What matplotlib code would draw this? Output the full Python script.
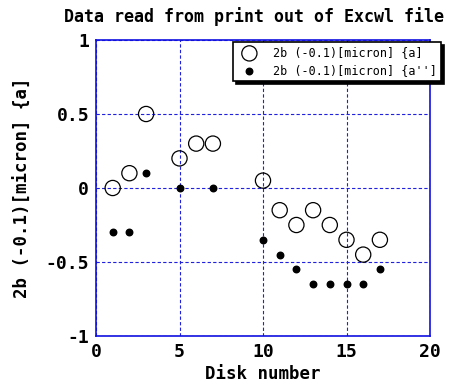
import matplotlib
matplotlib.use('Agg')
import matplotlib.pyplot as plt

# Disk measurements, 2b (-0.1) [micron]
disk_a = [1, 2, 3, 5, 6, 7, 10, 11, 12, 13, 14, 15, 16, 17]
val_a = [0.0, 0.1, 0.5, 0.2, 0.3, 0.3, 0.05, -0.15, -0.25, -0.15, -0.25, -0.35, -0.45, -0.35]

disk_a2 = [1, 2, 3, 5, 7, 10, 11, 12, 13, 14, 15, 16, 17]
val_a2 = [-0.3, -0.3, 0.1, 0.0, 0.0, -0.35, -0.45, -0.55, -0.65, -0.65, -0.65, -0.65, -0.55]

xticks = [0, 5, 10, 15, 20]
yticks = [-1, -0.5, 0, 0.5, 1]
ytick_labels = ['-1', '-0.5', '0', '0.5', '1']

plt.rcParams['font.family'] = 'DejaVu Sans Mono'
plt.rcParams['font.weight'] = 'bold'

fig = plt.figure(figsize=(4.52, 3.92), dpi=100)
ax = fig.add_axes([96 / 452, 1 - 336 / 392, 334 / 452, 296 / 392])

ax.scatter(disk_a, val_a, s=120, facecolors='none', edgecolors='black', linewidths=0.9,
           label='2b (-0.1)[micron] {a]', zorder=3)
ax.scatter(disk_a2, val_a2, s=22, color='black',
           label="2b (-0.1)[micron] {a'']", zorder=3)

ax.set_xlim(0, 20)
ax.set_ylim(-1, 1)
ax.set_xticks(xticks)
ax.set_yticks(yticks)
ax.set_yticklabels(ytick_labels)
ax.tick_params(length=0, labelsize=13, pad=5)
for lbl in ax.get_xticklabels() + ax.get_yticklabels():
    lbl.set_fontweight('bold')

ax.grid(True, color='#2020e0', linestyle=(0, (3, 2)), linewidth=0.8)
for s in ax.spines.values():
    s.set_color('#1010e0')
    s.set_linewidth(1.2)

ax.set_title('Data read from print out of Excwl file', fontsize=12, fontweight='bold',
             x=0.473, pad=13)
ax.set_xlabel('Disk number', fontsize=12.5, fontweight='bold', labelpad=3)
ax.set_ylabel('2b (-0.1)[micron] {a]', fontsize=12.5, fontweight='bold', labelpad=10)

leg = ax.legend(loc='upper right', bbox_to_anchor=(1.04, 1.0),
                frameon=True, fancybox=False, shadow={'color': 'black', 'alpha': 1},
                borderpad=0.35, labelspacing=0.35, handletextpad=1.0, borderaxespad=0.2,
                prop={'weight': 'normal', 'size': 8.5})
leg.get_frame().set_edgecolor('black')
leg.get_frame().set_linewidth(1.2)

plt.savefig('out.png', dpi=100)
